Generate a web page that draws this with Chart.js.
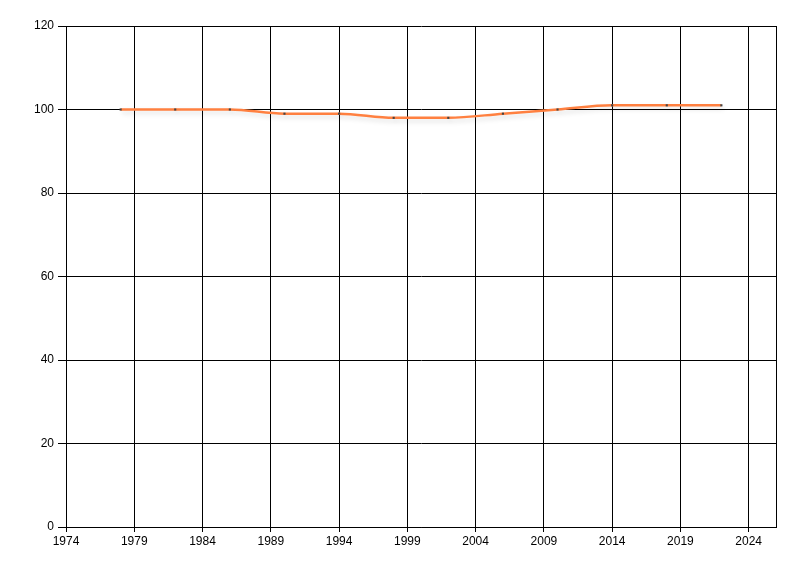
<html>

<head>
    <meta charset="utf-8">
    <title>Chart</title>
    <script src="https://cdn.jsdelivr.net/npm/chart.js@4.4.1/dist/chart.umd.min.js"></script>
    <style>
        body {
            margin: 0;
            background: #fff;
        }
    </style>
</head>

<body>
    <canvas id="myChart" width="800" height="576"></canvas>

    <script>
        // data
        var years = [1978, 1982, 1986, 1990, 1994, 1998, 2002, 2006, 2010, 2014, 2018, 2022];
        var values = [100, 100, 100, 99, 99, 98, 98, 99, 100, 101, 101, 101];
        var xTickYears = [1974, 1979, 1984, 1989, 1994, 1999, 2004, 2009, 2014, 2019, 2024];
        var yTicks = [0, 20, 40, 60, 80, 100, 120];

        var lineShadow = {
            id: 'lineShadow',
            beforeDatasetDraw: function (chart) {
                let c = chart.ctx;
                c.save();
                c.shadowColor = 'rgba(0,0,0,0.13)';
                c.shadowBlur = 5;
                c.shadowOffsetX = 2;
                c.shadowOffsetY = 3;
            },
            afterDatasetDraw: function (chart) {
                chart.ctx.restore();
            }
        };

        var ctx = document.getElementById('myChart');
        var myChart = new Chart(ctx, {
            type: 'line',
            data: {
                datasets: [
                    {
                        data: years.map((y, i) => ({ x: y, y: values[i] })),
                        borderColor: '#ff8040',
                        borderWidth: 2.5,
                        cubicInterpolationMode: 'monotone',
                        fill: false,
                        pointStyle: 'rect',
                        pointRadius: 1.5,
                        pointBackgroundColor: '#444',
                        pointBorderColor: '#444',
                        pointBorderWidth: 0
                    }
                ]
            },
            plugins: [lineShadow],
            options: {
                responsive: false,
                animation: false,
                layout: { padding: { top: 26, right: 24, left: 0, bottom: 0 } },
                plugins: {
                    legend: { display: false },
                    tooltip: { enabled: false }
                },
                scales: {
                    x: {
                        type: 'linear',
                        min: 1974,
                        max: 2026,
                        afterBuildTicks: function (s) {
                            s.ticks = xTickYears.map(v => ({ value: v })).concat([{ value: 2026 }]);
                        },
                        afterFit: function (s) { s.height = 49; },
                        ticks: {
                            color: '#000',
                            font: { family: 'Liberation Sans', size: 12 },
                            padding: 2,
                            maxRotation: 0,
                            autoSkip: false,
                            callback: v => xTickYears.includes(v) ? String(v) : ''
                        },
                        grid: {
                            color: '#000',
                            lineWidth: 1,
                            tickLength: 5,
                            tickColor: c => c.tick && c.tick.value === 2026 ? 'rgba(0,0,0,0)' : '#000'
                        },
                        border: { color: '#000' }
                    },
                    y: {
                        min: 0,
                        max: 120,
                        afterBuildTicks: function (s) {
                            s.ticks = yTicks.map(v => ({ value: v }));
                        },
                        afterFit: function (s) { s.width = 66; },
                        ticks: {
                            color: '#000',
                            font: { family: 'Liberation Sans', size: 12 },
                            padding: 4
                        },
                        grid: {
                            color: '#000',
                            lineWidth: 1,
                            tickLength: 8
                        },
                        border: { color: '#000' }
                    }
                }
            }
        });
    </script>
</body>

</html>
